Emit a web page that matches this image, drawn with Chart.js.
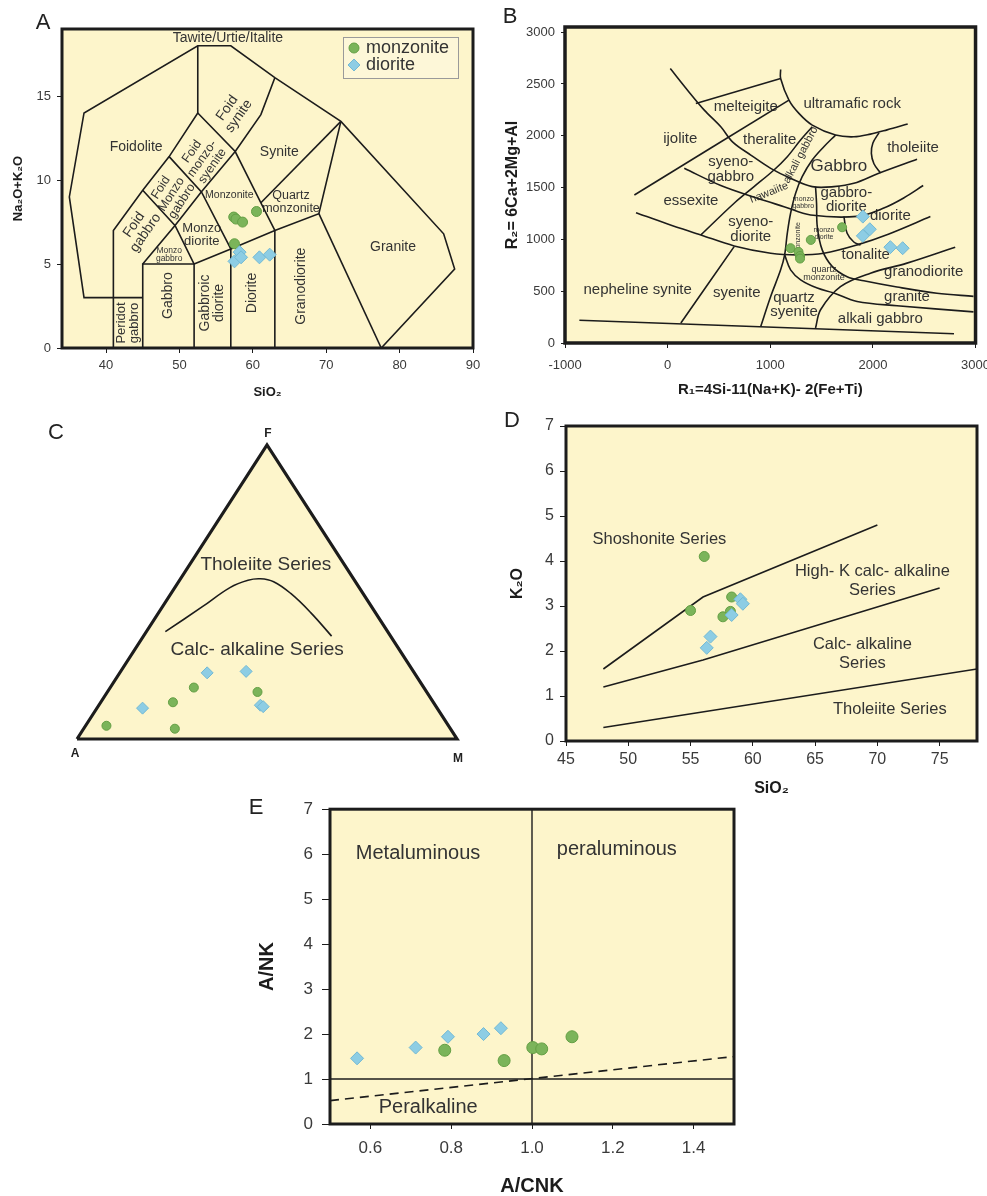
<!DOCTYPE html>
<html>
<head>
<meta charset="utf-8">
<script src="https://cdn.jsdelivr.net/npm/chart.js@4.4.1/dist/chart.umd.min.js"></script>
<style>
  body { margin: 0; width: 987px; height: 1196px; overflow: hidden; background: #fff; position: relative;
         font-family: "Liberation Sans", Arial, sans-serif; }
  .panel { position: absolute; }
  .tag { position: absolute; transform: translate(-50%, -50%); color: #222; line-height: 1; }
  .vtx { position: absolute; transform: translate(-50%, -50%); color: #222; font-weight: bold; font-size: 12px; line-height: 1; }
</style>
</head>
<body>
<div class="panel" id="pa"><canvas></canvas></div>
<div class="panel" id="pb"><canvas></canvas></div>
<div class="panel" id="pc"><canvas></canvas></div>
<div class="panel" id="pd"><canvas></canvas></div>
<div class="panel" id="pe"><canvas></canvas></div>

<div class="tag" style="left:43px;top:22px;font-size:22px">A</div>
<div class="tag" style="left:510px;top:16px;font-size:22px">B</div>
<div class="tag" style="left:56px;top:432px;font-size:22px">C</div>
<div class="tag" style="left:512px;top:420px;font-size:22px">D</div>
<div class="tag" style="left:256px;top:807px;font-size:22px">E</div>
<div class="vtx" style="left:268px;top:433px">F</div>
<div class="vtx" style="left:75px;top:753px">A</div>
<div class="vtx" style="left:458px;top:758px">M</div>

<script>
  // ---- A: TAS diagram (SiO2 vs Na2O+K2O) ----
  const tasMonzonite = [[57.4, 7.8], [57.7, 7.68], [58.6, 7.5], [60.5, 8.13], [57.5, 6.21]];
  const tasDiorite = [[57.5, 5.16], [58.2, 5.71], [58.4, 5.4], [60.9, 5.4], [62.3, 5.56]];
  const tasXTicks = [40, 50, 60, 70, 80, 90];
  const tasYTicks = [0, 5, 10, 15];
  const tasOutline = [[45, 3], [37, 3], [35, 9], [37, 14], [52.5, 18], [57, 18], [63, 16.1], [72, 13.5], [86, 6.8], [87.5, 4.7], [77.5, 0]];
  const tasEdges = [
    [[41, 0], [41, 7], [45, 9.4], [48.6, 11.4], [52.5, 14], [52.5, 18]],
    [[52.5, 14], [57.6, 11.7], [61.1, 8.65], [63, 7]],
    [[57.6, 11.7], [61.1, 13.9], [63, 16.1]],
    [[45, 9.4], [49.4, 7.3], [53, 9.3], [57.6, 11.7]],
    [[48.6, 11.4], [53, 9.3], [57, 5.9]],
    [[45, 5], [49.4, 7.3], [52, 5]],
    [[45, 0], [45, 5], [52, 5], [52, 0]],
    [[52, 5], [57, 5.9], [63, 7], [69, 8], [72, 13.5]],
    [[57, 0], [57, 5.9]],
    [[63, 0], [63, 7]],
    [[61.1, 8.65], [72, 13.5]],
    [[69, 8], [77.5, 0]],
  ];
  const tasLabels = [
    ['Tawite/Urtie/Italite', 56.6, 18.43, 14],
    ['Foidolite', 44.1, 11.97, 14],
    ['Foid\nsynite', 57.3, 14.05, 14, -55],
    ['Synite', 63.6, 11.67, 14],
    ['Foid\nmonzo-\nsyenite', 53.1, 11.27, 12.5, -55],
    ['Foid\nMonzo\ngabbro', 48.9, 9.15, 12.5, -57],
    ['Foid\ngabbro', 44.6, 7.1, 14, -55],
    ['Monzonite', 56.8, 9.09, 10.5],
    ['Quartz\nmonzonite', 65.2, 8.7, 12.5],
    ['Monzo\ndiorite', 53.05, 6.72, 13],
    ['Monzo\ngabbro', 48.6, 5.57, 8.5],
    ['Granite', 79.1, 6.02, 14],
    ['Peridot\ngabbro', 43, 1.49, 13, -90],
    ['Gabbro', 48.4, 3.12, 14, -90],
    ['Gabbroic\ndiorite', 54.5, 2.68, 14, -90],
    ['Diorite', 59.9, 3.28, 14, -90],
    ['Granodiorite', 66.6, 3.68, 14, -90],
  ];

  // ---- B: R1-R2 diagram ----
  const r1r2Monzonite = [[1198, 915], [1275, 880], [1290, 840], [1290, 815], [1395, 995], [1700, 1117]];
  const r1r2Diorite = [[1902, 1220], [1970, 1098], [1902, 1034], [2170, 925], [2290, 915]];
  const r1Ticks = [-1000, 0, 1000, 2000, 3000];
  const r2Ticks = [0, 500, 1000, 1500, 2000, 2500, 3000];
  const r1r2Edges = [
    [[-860, 220], [2790, 90]],
    [[26, 2649], [194, 2440], [357, 2248], [518, 2087], [632, 1942], [810, 1814], [1004, 1686], [1198, 1590], [1409, 1509], [1620, 1509], [1814, 1541], [2057, 1638], [2430, 1773]],
    [[1101, 2640], [1101, 2553], [1182, 2344], [1279, 2216], [1409, 2103], [1636, 2007], [1814, 1990], [1976, 2016], [2138, 2057], [2339, 2113]],
    [[275, 2312], [1101, 2553]],
    [[-324, 1429], [1182, 2344]],
    [[2060, 2030], [2000, 1930], [1985, 1830], [2010, 1730], [2075, 1640]],
    [[162, 1686], [518, 1520], [875, 1397], [1134, 1316], [1393, 1236], [1846, 1222], [2100, 1300], [2300, 1400], [2490, 1520]],
    [[-308, 1258], [0, 1149], [324, 1043], [648, 937], [1004, 867], [1263, 851], [1522, 867], [1846, 947], [2150, 1050], [2560, 1220]],
    [[1409, 2087], [1295, 1959], [1166, 1798], [1036, 1670], [842, 1509], [648, 1349], [324, 1043]],
    [[1636, 2007], [1522, 1894], [1409, 1766], [1311, 1605], [1247, 1445], [1198, 1252], [1166, 1060], [1140, 851], [1101, 706], [1004, 449], [907, 160]],
    [[648, 930], [129, 193]],
    [[1717, 1222], [1749, 1060], [1814, 975], [1880, 945]],
    [[1441, 1509], [1451, 1349], [1458, 1124], [1506, 899], [1603, 740], [1749, 640], [1911, 600], [2235, 540], [2624, 480], [2980, 450]],
    [[1140, 851], [1198, 706], [1296, 610], [1458, 530], [1620, 482], [1846, 401], [2235, 360], [2980, 300]],
    [[1441, 145], [1490, 321], [1684, 545], [1976, 674], [2332, 771], [2802, 925]],
  ];
  const r1r2Labels = [
    ['melteigite', 761, 2279, 15],
    ['ultramafic rock', 1798, 2305, 15],
    ['ijolite', 123, 1975, 15],
    ['theralite', 994, 1959, 15],
    ['alkali gabbro', 1296, 1814, 11, -62],
    ['tholeiite', 2391, 1884, 15],
    ['syeno-\ngabbro', 615, 1675, 15],
    ['Gabbro', 1669, 1701, 17],
    ['hawaiite', 988, 1451, 11, -22],
    ['essexite', 227, 1371, 15],
    ['monzo\ngabbro', 1322, 1356, 7],
    ['gabbro-\ndiorite', 1741, 1380, 15],
    ['diorite', 2170, 1226, 15],
    ['syeno-\ndiorite', 810, 1096, 15],
    ['monzonite', 1270, 1011, 7, -90],
    ['monzo\ndiorite', 1523, 1055, 7],
    ['tonalite', 1930, 851, 15],
    ['quartz\nmonzonite', 1523, 670, 9],
    ['granodiorite', 2495, 690, 15],
    ['nepheline synite', -292, 513, 15],
    ['syenite', 673, 487, 15],
    ['quartz\nsyenite', 1231, 365, 15],
    ['granite', 2332, 449, 15],
    ['alkali gabbro', 2073, 231, 15],
  ];

  // ---- C: AFM ternary, rows are [A, F, M] in % ----
  const afmMonzonite = [[90, 4.5, 5.5], [72.5, 3.5, 24], [68.5, 12.5, 19], [60.5, 17.5, 22], [44.5, 16, 39.5]];
  const afmDiorite = [[77.5, 10.5, 12], [54.5, 22.5, 23], [44, 23, 33], [46, 11.5, 42.5], [45.5, 11, 43.5]];
  const afmTriangle = [[100, 0, 0], [0, 0, 100], [0, 100, 0], [100, 0, 0]];
  const afmDivide = [[58.5, 36.5, 5], [44.5, 45, 10.5], [34, 51.5, 14.5], [28, 54, 18], [24.5, 54.5, 21], [21.5, 53.5, 25], [19, 49.5, 31.5], [17, 43, 40], [15.5, 35, 49.5]];
  const afmLabels = [['Tholeiite Series', 49.7, 59.2, 19], ['Calc- alkaline Series', 47.4, 30.3, 19]];

  // ---- D: SiO2 vs K2O ----
  const k2oMonzonite = [[56.1, 4.1], [55.0, 2.9], [58.3, 3.2], [58.2, 2.88], [57.6, 2.76]];
  const k2oDiorite = [[59.0, 3.15], [59.2, 3.05], [58.3, 2.8], [56.6, 2.32], [56.3, 2.07]];
  const k2oXTicks = [45, 50, 55, 60, 65, 70, 75];
  const k2oYTicks = [0, 1, 2, 3, 4, 5, 6, 7];
  const k2oEdges = [
    [[48, 1.6], [56, 3.2], [70, 4.8]],
    [[48, 1.2], [56, 1.8], [75, 3.4]],
    [[48, 0.3], [78, 1.6]],
  ];
  const k2oLabels = [
    ['Shoshonite Series', 52.5, 4.47, 16.5],
    ['High- K calc- alkaline\nSeries', 69.6, 3.55, 16.5],
    ['Calc- alkaline\nSeries', 68.8, 1.93, 16.5],
    ['Tholeiite Series', 71.0, 0.69, 16.5],
  ];

  // ---- E: A/CNK vs A/NK ----
  const acnkMonzonite = [[0.784, 1.64], [0.931, 1.41], [1.002, 1.7], [1.024, 1.67], [1.099, 1.94]];
  const acnkDiorite = [[0.567, 1.46], [0.712, 1.7], [0.792, 1.94], [0.88, 2.0], [0.923, 2.13]];
  const acnkTicks = [0.6, 0.8, 1.0, 1.2, 1.4];
  const ankTicks = [0, 1, 2, 3, 4, 5, 6, 7];
  const acnkEdges = [[[1, 0], [1, 7]], [[0.5, 1], [1.5, 1]]];
  const acnkDashed = [[0.5, 0.52], [1.5, 1.5]];
  const acnkLabels = [['Metaluminous', 0.718, 6.02, 20], ['peraluminous', 1.21, 6.11, 20], ['Peralkaline', 0.743, 0.36, 20]];

  const GREEN = '#7bb45a', GREEN_EDGE = '#649f44';
  const BLUE = '#8dcde4', BLUE_EDGE = '#72b9d4';
  const PAPER = '#fdf5cb';
  const INK = '#1c1c1c';
  const FONT = '"Liberation Sans", Arial, sans-serif';

  Chart.defaults.font.family = FONT;
  Chart.defaults.color = '#333';

  const xy = (pts) => pts.map(([x, y]) => ({ x, y }));
  const afmXY = (rows) => rows.map(([a, f, m]) => ({ x: m + f / 2, y: f }));

  const lineSet = (data, extra) => ({
    data, showLine: true, pointRadius: 0, borderColor: INK, borderWidth: 1.6, order: 3, ...extra,
  });
  const dotSet = (data, kind, r) => ({
    data, showLine: false,
    pointStyle: kind === 'monzonite' ? 'circle' : 'rectRot',
    pointRadius: r, borderWidth: 1,
    backgroundColor: kind === 'monzonite' ? GREEN : BLUE,
    borderColor: kind === 'monzonite' ? GREEN_EDGE : BLUE_EDGE,
    order: kind === 'monzonite' ? 2 : 1,
  });

  function drawTexts(chart, texts = [], lh = 1.05) {
    const { ctx, scales } = chart;
    ctx.save();
    ctx.fillStyle = '#333';
    ctx.textAlign = 'center';
    ctx.textBaseline = 'middle';
    texts.forEach(([text, vx, vy, size, rot = 0]) => {
      const lines = text.split('\n');
      ctx.save();
      ctx.translate(scales.x.getPixelForValue(vx), scales.y.getPixelForValue(vy));
      ctx.rotate(rot * Math.PI / 180);
      ctx.font = `${size}px ${FONT}`;
      lines.forEach((ln, i) => ctx.fillText(ln, 0, (i - (lines.length - 1) / 2) * size * lh));
      ctx.restore();
    });
    ctx.restore();
  }

  function drawLegend(ctx, a) {
    const x = a.right - 130, y = a.top + 8;
    ctx.save();
    ctx.fillStyle = '#fdf7d8';
    ctx.strokeStyle = '#9a9a9a';
    ctx.lineWidth = 1;
    ctx.fillRect(x, y, 115, 41);
    ctx.strokeRect(x + 0.5, y + 0.5, 115, 41);
    ctx.fillStyle = GREEN; ctx.strokeStyle = GREEN_EDGE;
    ctx.beginPath(); ctx.arc(x + 11, y + 11, 5, 0, Math.PI * 2); ctx.fill(); ctx.stroke();
    ctx.fillStyle = BLUE; ctx.strokeStyle = BLUE_EDGE;
    const cx = x + 11, cy = y + 28;
    ctx.beginPath(); ctx.moveTo(cx, cy - 6); ctx.lineTo(cx + 6, cy); ctx.lineTo(cx, cy + 6); ctx.lineTo(cx - 6, cy); ctx.closePath();
    ctx.fill(); ctx.stroke();
    ctx.fillStyle = '#333';
    ctx.font = `18px ${FONT}`;
    ctx.textBaseline = 'middle';
    ctx.fillText('monzonite', x + 23, y + 11);
    ctx.fillText('diorite', x + 23, y + 28);
    ctx.restore();
  }

  const makeDecor = (o) => ({
    id: 'decor',
    beforeDatasetsDraw(chart) {
      const { ctx, chartArea: a } = chart;
      if (o.paper) {
        ctx.save();
        ctx.fillStyle = PAPER;
        ctx.fillRect(a.left, a.top, a.width, a.height);
        ctx.restore();
      }
      if (!o.late) drawTexts(chart, o.texts, o.lh);
    },
    afterDatasetsDraw(chart) {
      const { ctx, chartArea: a } = chart;
      if (o.late) drawTexts(chart, o.texts, o.lh);
      if (o.frame) {
        ctx.save();
        ctx.lineWidth = o.frame;
        ctx.strokeStyle = INK;
        ctx.strokeRect(a.left, a.top, a.width, a.height);
        ctx.restore();
      }
      if (o.legend) drawLegend(ctx, a);
    },
  });

  // box = canvas position [left, top, width, height]; area = plot frame [left, top, right, bottom], page pixels
  function plotPanel(id, p) {
    const [bl, bt, bw, bh] = p.box;
    const [al, at, ar, ab] = p.area;
    const holder = document.getElementById(id);
    Object.assign(holder.style, { left: bl + 'px', top: bt + 'px', width: bw + 'px', height: bh + 'px' });
    const axis = (s, isX) => ({
      type: 'linear', min: s.min, max: s.max,
      afterBuildTicks: (sc) => { sc.ticks = s.ticks.map((value) => ({ value })); },
      afterFit: (sc) => { if (isX) sc.height = bt + bh - ab; else sc.width = al - bl; },
      border: { display: false },
      grid: { drawOnChartArea: false, drawTicks: true, tickLength: s.tickLen, color: INK, lineWidth: 1 },
      ticks: { font: { size: s.size }, padding: s.pad, color: '#3a3a3a', autoSkip: false, maxRotation: 0,
               callback: s.fmt || ((v) => String(v)) },
      title: { display: true, text: s.title, color: INK, font: { size: s.titleSize, weight: 'bold', lineHeight: s.titleLh || 1.2 },
               padding: isX ? { top: 0, bottom: s.titlePad } : { top: s.titlePad, bottom: 0 } },
    });
    return new Chart(holder.querySelector('canvas'), {
      type: 'scatter',
      data: { datasets: p.datasets },
      options: {
        responsive: true, maintainAspectRatio: false, animation: false, events: [],
        layout: { padding: { top: at - bt, right: bl + bw - ar, left: 0, bottom: 0 } },
        plugins: { legend: { display: false }, tooltip: { enabled: false } },
        scales: { x: axis(p.x, true), y: axis(p.y, false) },
      },
      plugins: [makeDecor(p.decor)],
    });
  }

  // A
  plotPanel('pa', {
    box: [0, 0, 490, 410], area: [62, 29, 473, 348],
    x: { min: 34, max: 90, ticks: tasXTicks, size: 13, pad: 5, tickLen: 5, title: 'SiO₂', titleSize: 13, titlePad: 10 },
    y: { min: 0, max: 19, ticks: tasYTicks, size: 13, pad: 6, tickLen: 5, title: 'Na₂O+K₂O', titleSize: 13, titlePad: 11 },
    datasets: [
      dotSet(xy(tasMonzonite), 'monzonite', 5),
      dotSet(xy(tasDiorite), 'diorite', 6.5),
      lineSet(xy(tasOutline)),
      ...tasEdges.map((e) => lineSet(xy(e))),
    ],
    decor: { paper: true, frame: 3, texts: tasLabels, lh: 1.0, legend: true },
  });

  // B
  plotPanel('pb', {
    box: [490, 0, 510, 410], area: [565, 27, 977, 343],
    x: { min: -1000, max: 3000, ticks: r1Ticks, size: 13, pad: 10, tickLen: 5, title: 'R₁=4Si-11(Na+K)- 2(Fe+Ti)', titleSize: 15, titlePad: 11 },
    y: { min: 0, max: 3050, ticks: r2Ticks, size: 13, pad: 6, tickLen: 4, title: 'R₂= 6Ca+2Mg+Al', titleSize: 16, titlePad: 13 },
    datasets: [
      dotSet(xy(r1r2Monzonite), 'monzonite', 4.5),
      dotSet(xy(r1r2Diorite), 'diorite', 6.5),
      ...r1r2Edges.map((e) => lineSet(xy(e), { tension: 0.35 })),
    ],
    decor: { paper: true, frame: 3.5, texts: r1r2Labels, lh: 0.95 },
  });

  // C
  (() => {
    const holder = document.getElementById('pc');
    Object.assign(holder.style, { left: '30px', top: '420px', width: '460px', height: '380px' });
    new Chart(holder.querySelector('canvas'), {
      type: 'scatter',
      data: {
        datasets: [
          dotSet(afmXY(afmMonzonite), 'monzonite', 4.5),
          dotSet(afmXY(afmDiorite), 'diorite', 6),
          lineSet(afmXY(afmDivide), { tension: 0.4, order: 3 }),
          lineSet(afmXY(afmTriangle), { borderWidth: 3.2, fill: 'shape', backgroundColor: PAPER, clip: false, order: 4 }),
        ],
      },
      options: {
        responsive: true, maintainAspectRatio: false, animation: false, events: [],
        layout: { padding: { left: 47, top: 25, right: 33, bottom: 61 } },
        plugins: { legend: { display: false }, tooltip: { enabled: false } },
        scales: { x: { display: false, min: 0, max: 100 }, y: { display: false, min: 0, max: 100 } },
      },
      plugins: [makeDecor({ texts: afmLabels, late: true })],
    });
  })();

  // D
  plotPanel('pd', {
    box: [500, 400, 487, 410], area: [566, 426, 977, 741],
    x: { min: 45, max: 78, ticks: k2oXTicks, size: 16, pad: 4, tickLen: 5, title: 'SiO₂', titleSize: 16, titlePad: 12 },
    y: { min: 0, max: 7, ticks: k2oYTicks, size: 16, pad: 6, tickLen: 6, title: 'K₂O', titleSize: 16, titlePad: 8 },
    datasets: [
      dotSet(xy(k2oMonzonite), 'monzonite', 5),
      dotSet(xy(k2oDiorite), 'diorite', 6.5),
      ...k2oEdges.map((e) => lineSet(xy(e))),
    ],
    decor: { paper: true, frame: 3, texts: k2oLabels, lh: 1.15 },
  });

  // E
  plotPanel('pe', {
    box: [240, 790, 530, 406], area: [330, 809, 734, 1124],
    x: { min: 0.5, max: 1.5, ticks: acnkTicks, size: 17, pad: 9, tickLen: 5, fmt: (v) => v.toFixed(1),
         title: 'A/CNK', titleSize: 20, titlePad: 0, titleLh: 1 },
    y: { min: 0, max: 7, ticks: ankTicks, size: 17, pad: 9, tickLen: 8, title: 'A/NK', titleSize: 20, titlePad: 15 },
    datasets: [
      dotSet(xy(acnkMonzonite), 'monzonite', 6),
      dotSet(xy(acnkDiorite), 'diorite', 6.5),
      ...acnkEdges.map((e) => lineSet(xy(e), { borderWidth: 1.4 })),
      lineSet(xy(acnkDashed), { borderDash: [9, 6], borderWidth: 1.6 }),
    ],
    decor: { paper: true, frame: 3, texts: acnkLabels },
  });
</script>
</body>
</html>
